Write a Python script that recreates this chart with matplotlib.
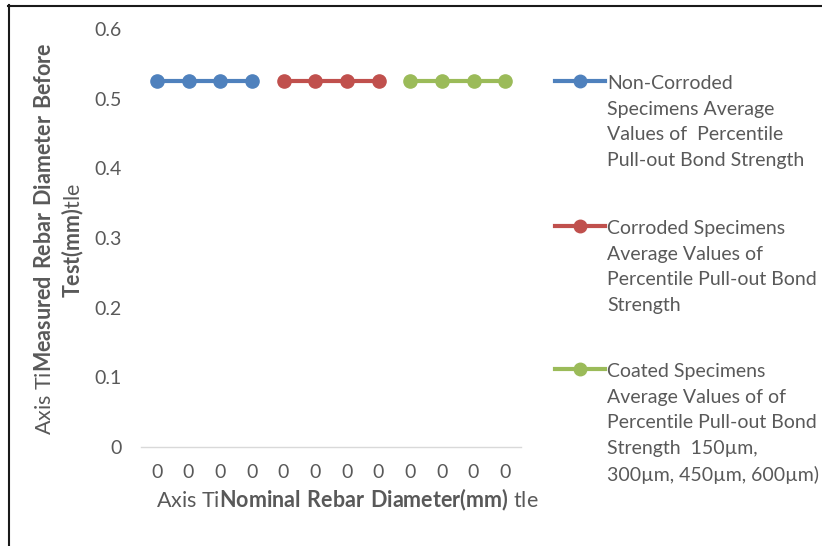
import numpy as np
import matplotlib
matplotlib.use("Agg")
import matplotlib.pyplot as plt
from matplotlib.lines import Line2D

# ---- data -------------------------------------------------------------
categories = ["0", "0", "0", "0", "0", "0", "0", "0", "0", "0", "0", "0"]
nan = np.nan
non_corroded = [0.525, 0.525, 0.525, 0.525, nan, nan, nan, nan, nan, nan, nan, nan]
corroded = [nan, nan, nan, nan, 0.525, 0.525, 0.525, 0.525, nan, nan, nan, nan]
coated = [nan, nan, nan, nan, nan, nan, nan, nan, 0.525, 0.525, 0.525, 0.525]

series_labels = [
    "Non-Corroded\nSpecimens Average\nValues of  Percentile\nPull-out Bond Strength",
    "Corroded Specimens\nAverage Values of\nPercentile Pull-out Bond\nStrength",
    "Coated Specimens\nAverage Values of of\nPercentile Pull-out Bond\nStrength  150\u00b5m,\n300\u00b5m, 450\u00b5m, 600\u00b5m)",
]
series_colors = ["#4F81BD", "#C0504D", "#9BBB59"]
y_ticks = [0, 0.1, 0.2, 0.3, 0.4, 0.5, 0.6]
y_tick_labels = ["0", "0.1", "0.2", "0.3", "0.4", "0.5", "0.6"]

# ---- style ------------------------------------------------------------
FONT = "Lato"
TXT = "#595959"
plt.rcParams["font.family"] = [FONT, "DejaVu Sans"]
plt.rcParams["mathtext.fontset"] = "custom"
plt.rcParams["mathtext.rm"] = FONT
plt.rcParams["mathtext.bf"] = FONT + ":bold"

W, H = 822, 546
fig = plt.figure(figsize=(W / 100, H / 100), dpi=100)

# plot area in pixel coordinates
x0, x1 = 141, 521
ytop, ybot = 29, 447
ax = fig.add_axes([x0 / W, 1 - ybot / H, (x1 - x0) / W, (ybot - ytop) / H])

xs = np.arange(len(categories))
for vals, col in zip([non_corroded, corroded, coated], series_colors):
    ax.plot(xs, vals, color=col, lw=3.0, marker="o", markersize=9.5,
            solid_capstyle="round")

ax.set_xlim(-0.5, len(categories) - 0.5)
ax.set_ylim(0, 0.6)
ax.set_xticks(xs)
ax.set_xticklabels(categories)
ax.set_yticks(y_ticks)
ax.set_yticklabels(y_tick_labels)
ax.tick_params(axis="both", length=0, labelsize=14, colors=TXT)
ax.tick_params(axis="y", pad=14)
ax.tick_params(axis="x", pad=12)
for s in ["top", "right", "left"]:
    ax.spines[s].set_visible(False)
ax.spines["bottom"].set_color("#D9D9D9")
ax.spines["bottom"].set_linewidth(1.0)

# axis titles (mixed regular / bold)
fig.text(347 / W, 1 - 500 / H,
         r"Axis Ti$\bf{Nominal\ Rebar\ Diameter(mm)}$ tle",
         ha="center", va="center", fontsize=15.5, color=TXT)
fig.text(45 / W, 1 - 239 / H,
         r"Axis Ti$\bf{Measured\ Rebar\ Diameter\ Before}$",
         ha="center", va="center", rotation=90, fontsize=15.5, color=TXT)
fig.text(73 / W, 1 - 241 / H,
         r"$\bf{Test(mm)}$tle",
         ha="center", va="center", rotation=90, fontsize=15.5, color=TXT)

# legend: marker line aligned with first line of each label
legend_rows = [81, 226, 369]
for lab, col, yr in zip(series_labels, series_colors, legend_rows):
    yf = 1 - yr / H
    fig.add_artist(Line2D([555 / W, 605 / W], [yf, yf], color=col, lw=3.0,
                          transform=fig.transFigure))
    fig.add_artist(Line2D([580 / W], [yf], color=col, marker="o",
                          markersize=9, transform=fig.transFigure))
    fig.text(607 / W, yf + 6 / H, lab, ha="left", va="top", fontsize=14,
             color=TXT, linespacing=1.62)

# chart frame
frame_kw = dict(color="#1a1a1a", lw=1.5, transform=fig.transFigure)
fig.add_artist(Line2D([8 / W, 1.0], [1 - 5.5 / H, 1 - 5.5 / H], **frame_kw))
fig.add_artist(Line2D([8.5 / W, 8.5 / W], [0.0, 1 - 5 / H], **frame_kw))

fig.savefig("out.png", dpi=100)
